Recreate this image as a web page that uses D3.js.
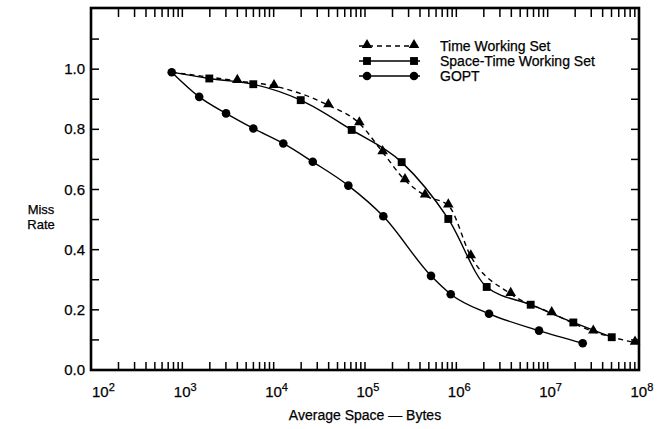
<!DOCTYPE html>
<html lang="en">
<head>
<meta charset="utf-8">
<style>
  body { margin: 0; background: #fff; }
  .lab { font-family: "Liberation Sans", Arial, Helvetica, sans-serif; fill: #000; stroke: #000; stroke-width: 0.25; }
</style>
</head>
<body>
<svg id="chart"></svg>
<script src="https://cdn.jsdelivr.net/npm/d3@7"></script>
<script>
var width = 657, height = 429;

// all three curves leave from the same first point
var startSpace = 765, startMiss = 0.99;

var goptSpace = [765, 1530, 3010, 5990, 12750, 26800, 65700, 158700, 528000, 868000, 2.28e6, 8.04e6, 2.42e7];
var goptMiss  = [0.99, 0.908, 0.853, 0.803, 0.753, 0.692, 0.613, 0.511, 0.313, 0.252, 0.187, 0.131, 0.089];

var stwsSpace = [1974, 5985, 19780, 71500, 252000, 817000, 2.15e6, 6.52e6, 1.91e7, 5.03e7];
var stwsMiss  = [0.969, 0.95, 0.897, 0.798, 0.691, 0.502, 0.276, 0.217, 0.158, 0.109];

var twsSpace = [4000, 10090, 39700, 86700, 156000, 274000, 454000, 817000, 1.44e6, 3.94e6, 1.107e7, 3.16e7, 9.05e7];
var twsMiss  = [0.961, 0.944, 0.88, 0.82, 0.724, 0.631, 0.58, 0.547, 0.378, 0.253, 0.189, 0.128, 0.091];

var xTickPowers = [2, 3, 4, 5, 6, 7, 8];
var yTickLabels = ["0.0", "0.2", "0.4", "0.6", "0.8", "1.0"];
var legendLabels = ["Time Working Set", "Space-Time Working Set", "GOPT"];

var svg = d3.select("#chart")
    .attr("width", width)
    .attr("height", height);

var x = d3.scaleLog().domain([1e2, 1e8]).range([91, 639]);
var y = d3.scaleLinear().domain([0, 1.2]).range([370, 9]);

var plotLeft = 91, plotRight = 639, plotBottom = 370, plotTop = 9;

// frame
svg.append("rect")
    .attr("x", plotLeft).attr("y", plotTop - 1)
    .attr("width", plotRight - plotLeft).attr("height", plotBottom - plotTop + 1)
    .attr("fill", "none").attr("stroke", "#000").attr("stroke-width", 2.6);

// inward tick marks on all four sides
var xt = x.ticks();
svg.selectAll("line.xb").data(xt).enter().append("line")
    .attr("x1", function(d) { return x(d); }).attr("x2", function(d) { return x(d); })
    .attr("y1", plotBottom).attr("y2", plotBottom - 8)
    .attr("stroke", "#000").attr("stroke-width", 1.5);
svg.selectAll("line.xt").data(xt).enter().append("line")
    .attr("x1", function(d) { return x(d); }).attr("x2", function(d) { return x(d); })
    .attr("y1", plotTop).attr("y2", plotTop + 8)
    .attr("stroke", "#000").attr("stroke-width", 1.5);

var yt = d3.range(1, 12).map(function(i) { return i / 10; });
svg.selectAll("line.yl").data(yt).enter().append("line")
    .attr("x1", plotLeft).attr("x2", plotLeft + 8)
    .attr("y1", function(d) { return y(d); }).attr("y2", function(d) { return y(d); })
    .attr("stroke", "#000").attr("stroke-width", 1.5);
svg.selectAll("line.yr").data(yt).enter().append("line")
    .attr("x1", plotRight).attr("x2", plotRight - 8)
    .attr("y1", function(d) { return y(d); }).attr("y2", function(d) { return y(d); })
    .attr("stroke", "#000").attr("stroke-width", 1.5);

// y tick labels
svg.selectAll("text.ylab")
  .data(yTickLabels)
  .enter().append("text")
    .attr("class", "lab")
    .attr("x", plotLeft - 6)
    .attr("y", function(d) { return y(+d) + 5; })
    .attr("text-anchor", "end")
    .style("font-size", "15px")
    .text(function(d) { return d; });

// x tick labels 10^n, the "10" centred on its tick but kept inside the frame
var xl = svg.selectAll("text.xlab")
  .data(xTickPowers)
  .enter().append("text")
    .attr("class", "lab")
    .attr("x", function(d) { return Math.max(x(Math.pow(10, d)) - 8.5, plotLeft + 1); })
    .attr("y", 397)
    .style("font-size", "15px");
xl.append("tspan").text("10");
xl.append("tspan").attr("dy", -6).style("font-size", "11px").text(function(d) { return d; });

// axis titles
svg.append("text").attr("class", "lab")
    .attr("x", 365).attr("y", 420)
    .attr("text-anchor", "middle")
    .style("font-size", "14px")
    .text("Average Space \u2014 Bytes");

svg.append("text").attr("class", "lab").attr("x", 41).attr("y", 214).attr("text-anchor", "middle")
    .style("font-size", "13px").text("Miss");
svg.append("text").attr("class", "lab").attr("x", 41).attr("y", 229).attr("text-anchor", "middle")
    .style("font-size", "13px").text("Rate");

// series
function pts(xs, ys) { return xs.map(function(v, i) { return [v, ys[i]]; }); }

var gopt = pts(goptSpace, goptMiss);
var stws = pts(stwsSpace, stwsMiss);
var tws = pts(twsSpace, twsMiss);
var start = [startSpace, startMiss];

var line = d3.line()
    .x(function(d) { return x(d[0]); })
    .y(function(d) { return y(d[1]); })
    .curve(d3.curveMonotoneX);

svg.append("path").datum(gopt).attr("d", line)
    .attr("fill", "none").attr("stroke", "#000").attr("stroke-width", 1.4);
svg.append("path").datum([start].concat(stws)).attr("d", line)
    .attr("fill", "none").attr("stroke", "#000").attr("stroke-width", 1.4);
svg.append("path").datum([start].concat(tws)).attr("d", line)
    .attr("fill", "none").attr("stroke", "#000").attr("stroke-width", 1.4)
    .attr("stroke-dasharray", "5,4");

var triSym = d3.symbol().type(d3.symbolTriangle).size(48);
var sqSym = d3.symbol().type(d3.symbolSquare).size(62);

svg.selectAll("circle.gopt").data(gopt).enter().append("circle")
    .attr("cx", function(d) { return x(d[0]); })
    .attr("cy", function(d) { return y(d[1]); })
    .attr("r", 4.3).attr("fill", "#000");

svg.selectAll("path.stws").data(stws).enter().append("path")
    .attr("d", sqSym)
    .attr("transform", function(d) { return "translate(" + x(d[0]) + "," + y(d[1]) + ")"; })
    .attr("fill", "#000");

svg.selectAll("path.tws").data(tws).enter().append("path")
    .attr("d", triSym)
    .attr("transform", function(d) { return "translate(" + x(d[0]) + "," + (y(d[1]) - 1) + ")"; })
    .attr("fill", "#000");

// legend
var legendY = [46, 61, 76];
var markers = [triSym, sqSym, null];
legendLabels.forEach(function(lab, i) {
  var g = svg.append("g").attr("transform", "translate(0," + legendY[i] + ")");
  g.append("line").attr("x1", 359).attr("x2", 420).attr("y1", 0).attr("y2", 0)
    .attr("stroke", "#000").attr("stroke-width", 1.4)
    .attr("stroke-dasharray", i === 0 ? "5,4" : null);
  [367, 414].forEach(function(mx) {
    if (markers[i]) {
      g.append("path").attr("d", markers[i]).attr("transform", "translate(" + mx + "," + (i === 0 ? -1 : 0) + ")");
    } else {
      g.append("circle").attr("cx", mx).attr("cy", 0).attr("r", 4.3);
    }
  });
  g.append("text").attr("class", "lab").attr("x", 440).attr("y", 5)
    .style("font-size", "14px").text(lab);
});
</script>
</body>
</html>
